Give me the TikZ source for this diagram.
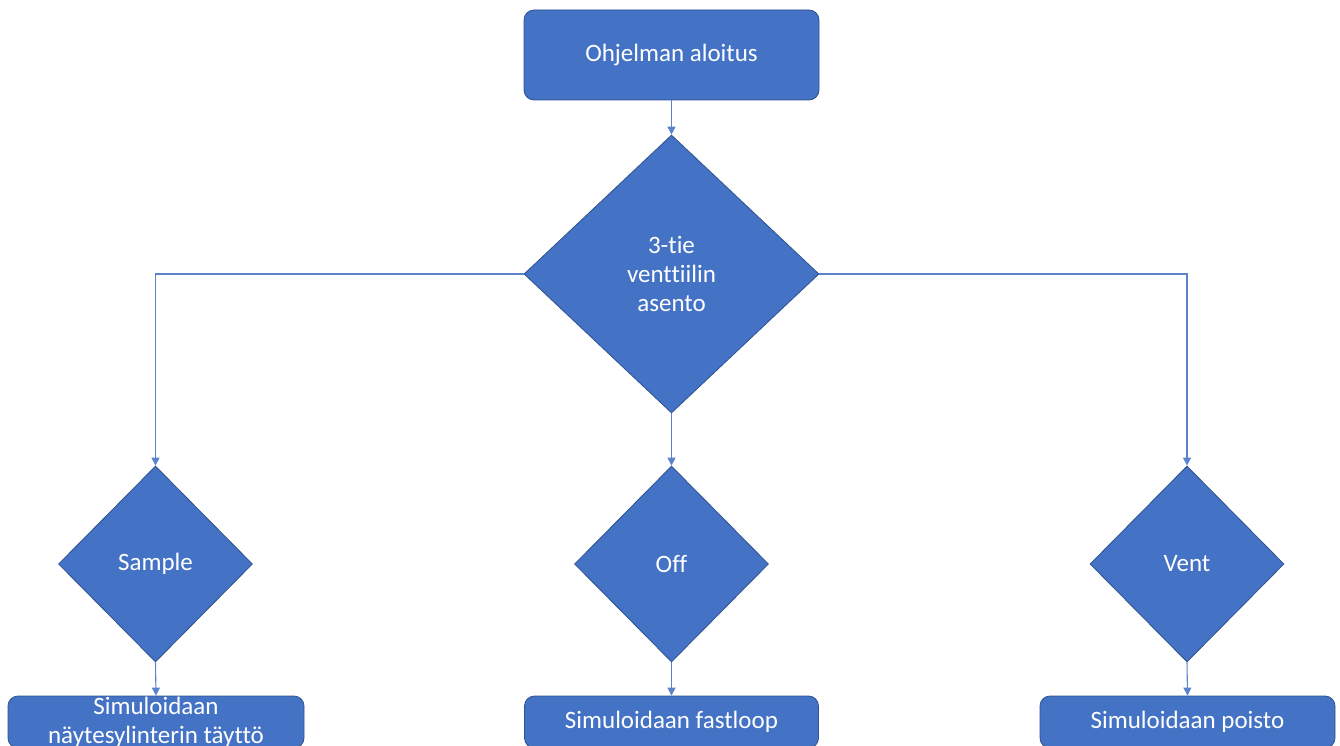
\documentclass[tikz,border=0pt]{standalone}
\usepackage{fontspec}
\setmainfont[Ligatures={NoCommon,NoRare}]{Carlito}
\usetikzlibrary{shapes.geometric,arrows.meta}
\definecolor{fillblue}{HTML}{4472C4}
\definecolor{edgeblue}{HTML}{2F528F}
\definecolor{lineblue}{HTML}{5B83CC}
\begin{document}
\begin{tikzpicture}[x=1pt,y=-1pt,
  boxstyle/.style={draw=edgeblue,line width=0.8pt,fill=fillblue,rounded corners=10pt,
    text=white,font=\fontsize{25}{29}\selectfont,align=center,inner sep=0pt},
  decision/.style={diamond,draw=edgeblue,line width=0.8pt,fill=fillblue,inner sep=0pt,
    text=white,font=\fontsize{25}{29}\selectfont,align=center},
  conn/.style={draw=lineblue,line width=1.1pt,-{Triangle[width=8pt,length=8pt]}}]
\useasboundingbox (0,0) rectangle (1340,746);
\clip (0,0) rectangle (1340,746);
\node[boxstyle,minimum width=295pt,minimum height=90pt] (start) at (671.5,55) {Ohjelman aloitus};
\node[decision,minimum width=295pt,minimum height=278pt] (valve) at (671.5,274) {3-tie\\venttiilin\\asento};
\node[decision,minimum width=194pt,minimum height=196pt] (sample) at (155.5,564) {Sample};
\node[decision,minimum width=194pt,minimum height=196pt] (off) at (671.5,564) {Off};
\node[decision,minimum width=194pt,minimum height=196pt] (vent) at (1187,564) {Vent};
\node[boxstyle,minimum width=296pt,minimum height=52pt] (fill) at (156,722) {Simuloidaan\\näytesylinterin täyttö};
\node[boxstyle,minimum width=294pt,minimum height=52pt] (fast) at (671.5,722) {Simuloidaan fastloop};
\node[boxstyle,minimum width=295pt,minimum height=52pt] (vent2) at (1187.5,722) {Simuloidaan poisto};
\draw[conn] (start.south) -- (valve.north);
\draw[conn] (valve.west) -| (sample.north);
\draw[conn] (valve.south) -- (off.north);
\draw[conn] (valve.east) -| (vent.north);
\draw[conn] (sample.south) -- (fill.north);
\draw[conn] (off.south) -- (fast.north);
\draw[conn] (vent.south) -- (vent2.north);
\end{tikzpicture}
\end{document}
